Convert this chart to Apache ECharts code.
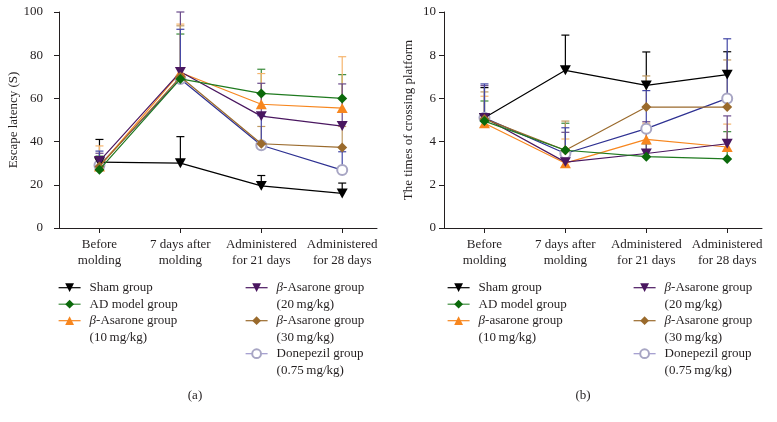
<!DOCTYPE html>
<html><head><meta charset="utf-8">
<script src="https://cdn.jsdelivr.net/npm/echarts@6/dist/echarts.min.js"></script>
<style>html,body{margin:0;padding:0;background:#fff}#c{width:777px;height:422px}</style>
</head><body><div id="c"></div><script>
// ---------- data ----------
const categories = ['Before\nmolding', '7 days after\nmolding', 'Administered\nfor 21 days', 'Administered\nfor 28 days'];

// (a) Escape latency (S): means and SD (upper error bar)
const latSham = [30.5, 30.0, 19.5, 16.0];
const latShamSD = [10.5, 12.3, 4.8, 4.8];
const latAD = [27.0, 69.0, 62.3, 60.0];
const latADSD = [6.3, 20.8, 11.2, 11.0];
const latA10 = [28.5, 72.0, 57.3, 55.5];
const latA10SD = [9.5, 22.4, 14.2, 23.8];
const latA20 = [31.0, 72.3, 51.8, 47.2];
const latA20SD = [3.6, 27.7, 15.2, 19.5];
const latA30 = [28.5, 70.0, 39.0, 37.3];
const latA30SD = [4.5, 23.6, 8.0, 9.7];
const latDon = [29.0, 69.0, 38.3, 26.8];
const latDonSD = [6.6, 23.0, 13.7, 8.5];

// (b) The times of crossing platform
const crsSham = [5.1, 7.3, 6.6, 7.1];
const crsShamSD = [1.4, 1.63, 1.55, 1.06];
const crsAD = [4.95, 3.6, 3.3, 3.2];
const crsADSD = [0.93, 1.25, 0.6, 1.26];
const crsA10 = [4.85, 3.0, 4.1, 3.75];
const crsA10SD = [1.25, 1.12, 0.75, 1.06];
const crsA20 = [5.1, 3.05, 3.45, 3.9];
const crsA20SD = [1.49, 1.38, 1.47, 1.29];
const crsA30 = [5.05, 3.6, 5.6, 5.6];
const crsA30SD = [1.25, 1.35, 1.44, 2.18];
const crsDon = [5.1, 3.45, 4.6, 6.0];
const crsDonSD = [1.57, 1.19, 1.76, 2.76];

const latencyTicks = [0, 20, 40, 60, 80, 100];
const crossingTicks = [0, 2, 4, 6, 8, 10];

// ---------- styles ----------
const FONT = '"Liberation Serif", "DejaVu Serif", serif';
const TRI_DOWN = 'path://M0,0L10,0L5,9Z';
const TRI_UP = 'path://M5,0L10,9L0,9Z';
const groups = [
  {key: 'sham', symbol: TRI_DOWN, size: 11, color: '#000000', line: '#000000', err: '#000000', z: 4},
  {key: 'ad', symbol: 'diamond', size: 10, color: '#0b690b', line: '#1f7a1f', err: '#3a8a3a', z: 5},
  {key: 'a10', symbol: TRI_UP, size: 11, color: '#f7861e', line: '#f7861e', err: '#f6b56e', z: 4},
  {key: 'a20', symbol: TRI_DOWN, size: 11, color: '#4a1760', line: '#4a1760', err: '#6a4a8a', z: 4},
  {key: 'a30', symbol: 'diamond', size: 10, color: '#9a6a2c', line: '#9a6a2c', err: '#bf9a62', z: 4},
  {key: 'don', symbol: 'emptyCircle', size: 10, color: '#a8a6c4', line: '#2e3192', err: '#4347a6', z: 3}
];
const legendLine = {sham: '#000000', ad: '#3f8f3f', a10: '#f7861e', a20: '#4a1760', a30: '#9a6a2c', don: '#9d97cc'};

const leftSets = [[latSham, latShamSD], [latAD, latADSD], [latA10, latA10SD], [latA20, latA20SD], [latA30, latA30SD], [latDon, latDonSD]];
const rightSets = [[crsSham, crsShamSD], [crsAD, crsADSD], [crsA10, crsA10SD], [crsA20, crsA20SD], [crsA30, crsA30SD], [crsDon, crsDonSD]];
const leftNames = ['Sham group', 'AD model group', 'β-Asarone group (10 mg/kg)', 'β-Asarone group (20 mg/kg)', 'β-Asarone group (30 mg/kg)', 'Donepezil group (0.75 mg/kg)'];
const rightNames = ['Sham group ', 'AD model group ', 'β-asarone group (10 mg/kg)', 'β-Asarone group (20 mg/kg) ', 'β-Asarone group (30 mg/kg) ', 'Donepezil group (0.75 mg/kg) '];
const leftLabels = ['Sham group', 'AD model group', '{b|β}-Asarone group\n(10\u2009mg/kg)', '{b|β}-Asarone group\n(20\u2009mg/kg)', '{b|β}-Asarone group\n(30\u2009mg/kg)', 'Donepezil group\n(0.75\u2009mg/kg)'];
const rightLabels = ['Sham group', 'AD model group', '{b|β}-asarone group\n(10\u2009mg/kg)', '{b|β}-Asarone group\n(20\u2009mg/kg)', '{b|β}-Asarone group\n(30\u2009mg/kg)', 'Donepezil group\n(0.75\u2009mg/kg)'];

function errSeries(ai, means, sds, color) {
  return {
    type: 'custom', xAxisIndex: ai, yAxisIndex: ai, silent: true, z: 1,
    data: means.map((m, i) => [i, m, m + sds[i]]),
    renderItem(params, api) {
      const p0 = api.coord([api.value(0), api.value(1)]);
      const p1 = api.coord([api.value(0), api.value(2)]);
      return {type: 'group', children: [
        {type: 'line', shape: {x1: p0[0], y1: p0[1], x2: p1[0], y2: p1[1]}, style: {stroke: color, lineWidth: 1.2}},
        {type: 'line', shape: {x1: p1[0] - 4, y1: p1[1], x2: p1[0] + 4, y2: p1[1]}, style: {stroke: color, lineWidth: 1.2}}
      ]};
    }
  };
}
function lineSeries(ai, name, means, g) {
  return {
    type: 'line', name, xAxisIndex: ai, yAxisIndex: ai, z: g.z,
    data: means.map((m, i) => [i, m]),
    symbol: g.symbol, symbolSize: g.size, symbolKeepAspect: true,
    itemStyle: {color: g.color, borderColor: g.color, borderWidth: g.symbol === 'emptyCircle' ? 1 : 0},
    lineStyle: {color: g.line, width: 1.2},
    emphasis: {disabled: true}, animation: false
  };
}
const series = [];
[[leftSets, leftNames, 0], [rightSets, rightNames, 1]].forEach(([sets, names, ai]) => {
  sets.forEach((s, k) => series.push(errSeries(ai, s[0], s[1], groups[k].err)));
  sets.forEach((s, k) => series.push(lineSeries(ai, names[k], s[0], groups[k])));
});

const richB = {b: {fontStyle: 'italic', fontFamily: FONT, fontSize: 13, lineHeight: 16.5, color: '#231f20'}};
function legendItem(name, label, g, left, cy) {
  const two = label.indexOf('\n') >= 0;
  const item = {name, textStyle: {padding: two ? [16.5, 0, 0, 4] : [0, 0, 0, 4]}, lineStyle: {color: legendLine[g.key], width: 1.2}};
  return {
    orient: 'vertical', left, top: cy - (two ? 24.75 : 8.25), padding: 0,
    itemWidth: 22, itemHeight: 11, selectedMode: false, data: [item],
    formatter: () => label,
    textStyle: {fontFamily: FONT, fontSize: 13, color: '#231f20', lineHeight: 16.5, rich: richB}
  };
}
const rowY = [287.7, 304.2, 320.7, 287.7, 320.7, 353.7];
const legends = [];
[[leftNames, leftLabels, 58, 245], [rightNames, rightLabels, 447, 633]].forEach(([names, labels, c1, c2]) => {
  names.forEach((n, k) => legends.push(legendItem(n, labels[k], groups[k], k < 3 ? c1 : c2, rowY[k])));
});

function xAxis(ai) {
  return {
    type: 'value', gridIndex: ai, min: -0.5, max: 3.43,
    axisLine: {onZero: false, lineStyle: {color: '#231f20', width: 1}},
    axisTick: {customValues: [0, 1, 2, 3], length: 5, lineStyle: {color: '#231f20'}},
    axisLabel: {customValues: [0, 1, 2, 3], formatter: v => categories[Math.round(v)], fontFamily: FONT, fontSize: 13, color: '#231f20', lineHeight: 16, margin: 9},
    splitLine: {show: false}
  };
}
function yAxis(ai, ticks, name, gap, margin) {
  return {
    type: 'value', gridIndex: ai, min: ticks[0], max: ticks[ticks.length - 1], interval: ticks[1] - ticks[0],
    name, nameLocation: 'middle', nameGap: gap, nameRotate: 90,
    nameTextStyle: {fontFamily: FONT, fontSize: 13, color: '#231f20'},
    axisLine: {show: true, onZero: false, lineStyle: {color: '#231f20', width: 1}},
    axisTick: {show: true, length: 5, lineStyle: {color: '#231f20'}},
    axisLabel: {fontFamily: FONT, fontSize: 13, color: '#231f20', margin},
    splitLine: {show: false}
  };
}

const chart = echarts.init(document.getElementById('c'), null, {renderer: 'canvas'});
chart.setOption({
  animation: false,
  backgroundColor: '#ffffff',
  grid: [
    {left: 59, top: 12, right: 400, bottom: 194},
    {left: 444, top: 12, right: 15, bottom: 194}
  ],
  xAxis: [xAxis(0), xAxis(1)],
  yAxis: [yAxis(0, latencyTicks, 'Escape latency (S)', 35, 16), yAxis(1, crossingTicks, 'The times of crossing platform', 29, 8)],
  legend: legends,
  series,
  graphic: [
    {type: 'text', style: {text: '(a)', x: 195, y: 396, align: 'center', verticalAlign: 'middle', font: '13px ' + FONT, fill: '#231f20'}},
    {type: 'text', style: {text: '(b)', x: 583, y: 396, align: 'center', verticalAlign: 'middle', font: '13px ' + FONT, fill: '#231f20'}}
  ]
});
</script></body></html>
